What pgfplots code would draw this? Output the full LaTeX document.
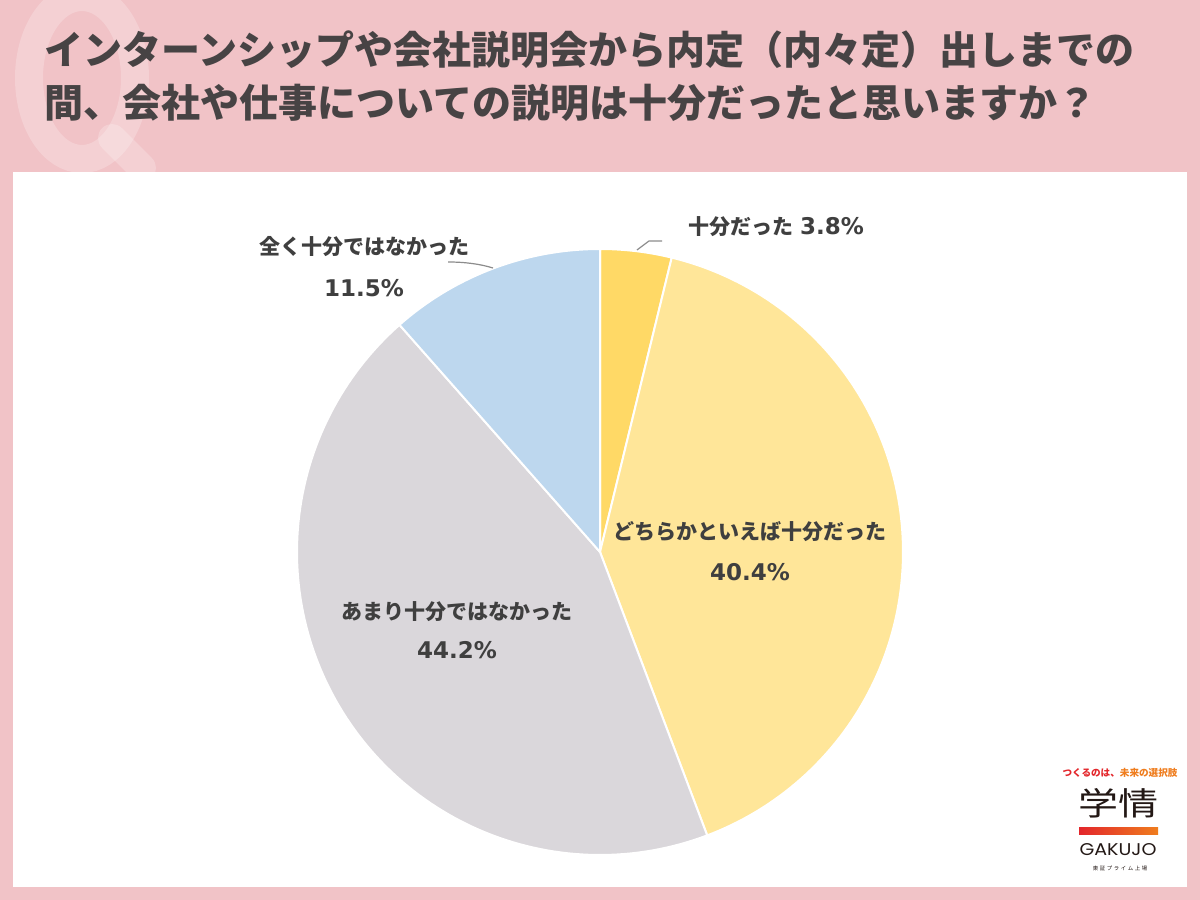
\documentclass[border=0pt]{standalone}
\usepackage{pgfplots}
\pgfplotsset{compat=1.18}
\usepackage{fontspec}
\setmainfont{Noto Sans CJK JP}
\newfontfamily\poppins{Poppins}
\newfontfamily\numf{DejaVu Sans}
\definecolor{bgpink}{HTML}{F1C3C7}
\definecolor{titlegray}{HTML}{474344}
\definecolor{labgray}{HTML}{3F3F3F}
\definecolor{cGold}{HTML}{FFD966}
\definecolor{cYellow}{HTML}{FFE699}
\definecolor{cGray}{HTML}{DAD7DB}
\definecolor{cBlue}{HTML}{BDD7EE}
\definecolor{logored}{HTML}{E3262B}
\definecolor{logoorange}{HTML}{EF7D1E}
\definecolor{logoblack}{HTML}{231815}
\definecolor{leader}{HTML}{8C8C8C}
\begin{document}
\begin{tikzpicture}[x=0.5pt,y=0.5pt]
\useasboundingbox (0,0) rectangle (1200,900);
\fill[bgpink] (0,0) rectangle (1200,900);
\begin{scope}
\clip (0,0) rectangle (1200,900);
\draw[white, opacity=0.22, line width=14pt] (82,822) ellipse [x radius=53, y radius=81];
\draw[white, opacity=0.22, line width=14pt, line cap=round] (112,762) -- (142,732);
\end{scope}
\fill[white] (13,13) rectangle (1187,728);
% title
\node[anchor=west, inner sep=0, text=titlegray, font=\fontsize{19.5pt}{22pt}\selectfont\bfseries] at (44,850) {インターンシップや会社説明会から内定（内々定）出しまでの};
\node[anchor=west, inner sep=0, text=titlegray, font=\fontsize{19.5pt}{22pt}\selectfont\bfseries] at (44,797) {間、会社や仕事についての説明は十分だったと思いますか？};
% data
\def\vA{3.8}\def\vB{40.4}\def\vC{44.2}\def\vD{11.5}
\pgfmathsetmacro\tot{\vA+\vB+\vC+\vD}
\pgfmathsetmacro\aA{90}
\pgfmathsetmacro\aB{\aA-\vA/\tot*360}
\pgfmathsetmacro\aC{\aB-\vB/\tot*360}
\pgfmathsetmacro\aD{\aC-\vC/\tot*360}
\pgfmathsetmacro\aE{\aD-\vD/\tot*360}
\begin{axis}[at={(300pt,174pt)}, anchor=center, scale only axis, width=303pt, height=303pt,
  xmin=-1, xmax=1, ymin=-1, ymax=1, hide axis, clip=false]
\addplot[draw=white, line width=1pt, fill=cGold, domain=\aB:\aA, samples=40, variable=\t] ({cos(\t)},{sin(\t)}) -- (axis cs:0,0) -- cycle;
\addplot[draw=white, line width=1pt, fill=cYellow, domain=\aC:\aB, samples=120, variable=\t] ({cos(\t)},{sin(\t)}) -- (axis cs:0,0) -- cycle;
\addplot[draw=white, line width=1pt, fill=cGray, domain=\aD:\aC, samples=120, variable=\t] ({cos(\t)},{sin(\t)}) -- (axis cs:0,0) -- cycle;
\addplot[draw=white, line width=1pt, fill=cBlue, domain=\aE:\aD, samples=60, variable=\t] ({cos(\t)},{sin(\t)}) -- (axis cs:0,0) -- cycle;
\end{axis}
% labels
\tikzset{lab/.style={text=labgray, inner sep=0, font=\fontsize{10.5pt}{12pt}\selectfont\bfseries},
  num/.style={text=labgray, inner sep=0, font=\numf\fontsize{11.5pt}{12pt}\selectfont\bfseries}}
\node[lab, anchor=base west] (t1) at (688,665) {十分だった};
\node[num, anchor=base west] at ([xshift=3pt]t1.base east) {3.8\%};
\draw[leader, line width=0.6pt] (637,650) -- (649,659) -- (662,659);
\node[lab] at (364,653) {全く十分ではなかった};
\node[num] at (364,612) {11.5\%};
\draw[leader, line width=0.6pt] (448,638) .. controls (465,638) and (480,636) .. (493,632);
\node[lab] at (750,368) {どちらかといえば十分だった};
\node[num] at (750,328) {40.4\%};
\node[lab] at (457,288) {あまり十分ではなかった};
\node[num] at (457,250) {44.2\%};
% logo
\node[inner sep=0, font=\fontsize{4.8pt}{5pt}\selectfont\bfseries] at (1120,127) {\textcolor{logored}{つくるのは、}\textcolor{logoorange}{未来の選択肢}};
\node[inner sep=0, text=logoblack, xscale=1.25, font=\fontsize{16pt}{17pt}\selectfont] at (1118,97) {学情};
\shade[left color=logored, right color=logoorange] (1079,65) rectangle (1158,72);
\node[inner sep=0, text=logoblack, xscale=1.12, font=\poppins\fontsize{8.5pt}{9pt}\selectfont] at (1118,50) {GAKUJO};
\node[inner sep=0, text=logoblack, font=\fontsize{2.7pt}{3pt}\selectfont\addfontfeature{LetterSpace=30}] at (1120,32) {東証プライム上場};
\end{tikzpicture}
\end{document}
